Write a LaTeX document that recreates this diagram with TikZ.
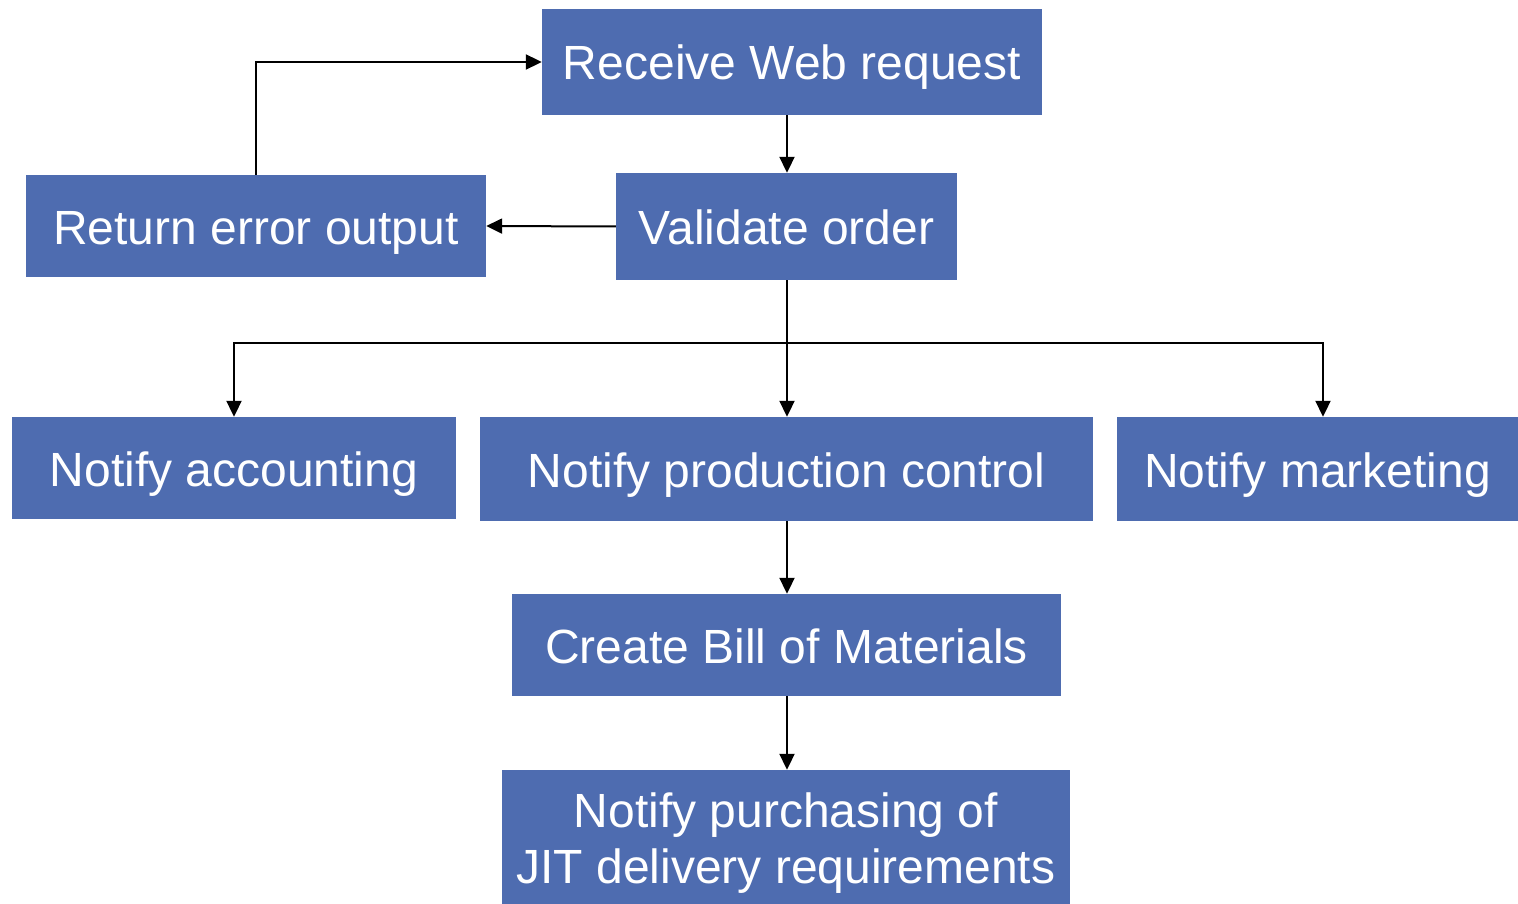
\documentclass[tikz,border=0pt]{standalone}
\usepackage{fontspec}
\setmainfont{Liberation Sans}
\usetikzlibrary{arrows.meta}
\definecolor{boxblue}{HTML}{4E6CB0}
\begin{document}
\begin{tikzpicture}[x=1pt,y=-1pt,
  box/.style={fill=boxblue, draw=none, text=white, inner sep=0pt, align=center,
    font=\fontsize{48}{56}\selectfont, text height=36pt, text depth=0pt},
  plainbox/.style={fill=boxblue, draw=none, inner sep=0pt},
  boxtext/.style={text=white, inner sep=0pt, align=center, font=\fontsize{48}{56}\selectfont},
  conn/.style={line width=2pt, -{Triangle[length=16pt,width=15pt]}},
  line/.style={line width=2pt}]
\useasboundingbox (0,0) rectangle (1518,904);
\node[box, minimum width=500pt, minimum height=106pt] (recv) at (792,62) {Receive Web request};
\node[box, minimum width=341pt, minimum height=107pt] (valid) at (786.5,226.5) {Validate order};
\node[box, minimum width=460pt, minimum height=102pt] (err) at (256,226) {Return error output};
\node[box, minimum width=444pt, minimum height=102pt] (acc) at (234,468) {Notify accounting};
\node[box, minimum width=613pt, minimum height=104pt] (prod) at (786.5,469) {Notify production control};
\node[box, minimum width=401pt, minimum height=104pt] (mkt) at (1317.5,469) {Notify marketing};
\node[box, minimum width=549pt, minimum height=102pt] (bom) at (786.5,645) {Create Bill of Materials};
\node[plainbox, minimum width=568pt, minimum height=134pt] (jit) at (786,837) {};
\node[boxtext, yshift=-6pt] (jittext) at (jit.center) {Notify purchasing of\\JIT delivery requirements};
\coordinate (split) at (787,343);
\draw[conn] (recv.south -| 787,0) -- (valid.north -| 787,0);
\draw[conn] (valid.west) -- (err.east);
\draw[conn] (err.north) |- (recv.west);
\draw[line] (valid.south -| split) -- (split);
\draw[conn] (split) -| (acc.north);
\draw[conn] (split) -- (prod.north -| split);
\draw[conn] (split) -| (mkt.north -| 1323,0);
\draw[conn] (prod.south -| 787,0) -- (bom.north -| 787,0);
\draw[conn] (bom.south -| 787,0) -- (jit.north -| 787,0);
\end{tikzpicture}
\end{document}
